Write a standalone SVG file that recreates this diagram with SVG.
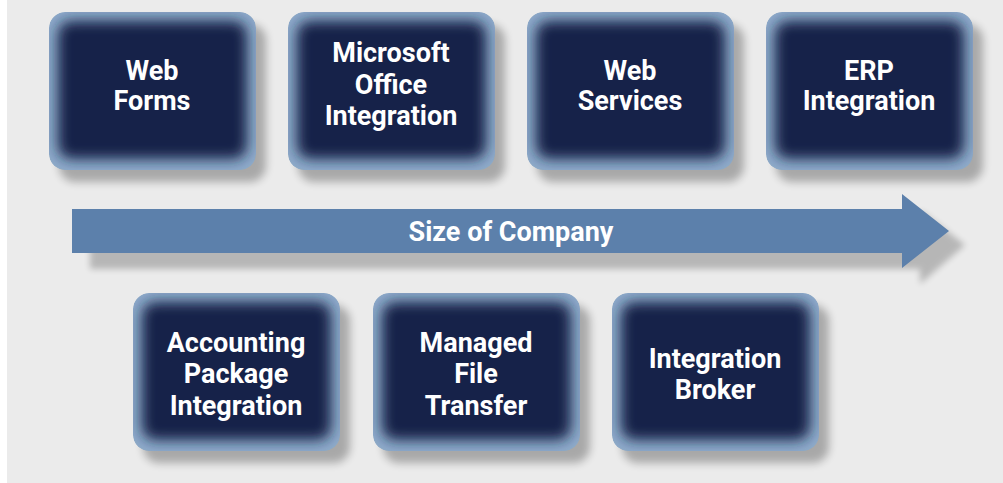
<svg xmlns="http://www.w3.org/2000/svg" width="1003" height="483" viewBox="0 0 1003 483">
  <defs>
    <filter id="soft" x="-20%" y="-20%" width="140%" height="140%">
      <feGaussianBlur stdDeviation="6.5"/>
    </filter>
    <filter id="shadowBlur" x="-20%" y="-20%" width="140%" height="140%">
      <feGaussianBlur stdDeviation="4"/>
    </filter>
    <filter id="arrowShadowBlur" x="-10%" y="-30%" width="120%" height="160%">
      <feGaussianBlur stdDeviation="3"/>
    </filter>
    <clipPath id="boxClip">
      <rect x="0" y="0" width="207" height="158" rx="16"/>
    </clipPath>
    <g id="box">
      <rect x="10" y="12" width="207" height="158" rx="16" fill="#000" opacity="0.28" filter="url(#shadowBlur)"/>
      <g clip-path="url(#boxClip)">
        <rect x="0" y="0" width="207" height="158" rx="16" fill="#8eabca"/>
        <rect x="9" y="9" width="189" height="138" rx="14" fill="#152048" filter="url(#soft)"/>
      </g>
    </g>
  </defs>
  <style>
    .lbl { font-family: Roboto, "Open Sans", "DejaVu Sans", sans-serif; font-weight: bold; font-size: 27px; fill: #ffffff; text-anchor: middle; }
  </style>

  <rect x="7" y="0" width="996" height="483" fill="#ebebeb"/>

  <g id="connectors">
    <path d="M90 225 H920 V210 L965 245 L920 284 V269 H90 Z" fill="#000" opacity="0.22" filter="url(#arrowShadowBlur)"/>
    <path d="M72 209 H902 V194 L949 231 L902 268 V253 H72 Z" fill="#5c80ab"/>
    <text class="lbl" x="511" y="241">Size of Company</text>
  </g>

  <g id="node-web-forms">
    <use href="#box" x="49" y="12"/>
    <text class="lbl" x="152" y="80">Web</text>
    <text class="lbl" x="152" y="110">Forms</text>
  </g>
  <g id="node-ms-office">
    <use href="#box" x="288" y="12"/>
    <text class="lbl" x="391" y="62">Microsoft</text>
    <text class="lbl" x="391" y="94">Office</text>
    <text class="lbl" x="391" y="125">Integration</text>
  </g>
  <g id="node-web-services">
    <use href="#box" x="527" y="12"/>
    <text class="lbl" x="630" y="80">Web</text>
    <text class="lbl" x="630" y="110">Services</text>
  </g>
  <g id="node-erp">
    <use href="#box" x="766" y="12"/>
    <text class="lbl" x="869" y="80">ERP</text>
    <text class="lbl" x="869" y="110">Integration</text>
  </g>

  <g id="node-accounting">
    <use href="#box" x="133" y="293"/>
    <text class="lbl" x="236" y="352">Accounting</text>
    <text class="lbl" x="236" y="383">Package</text>
    <text class="lbl" x="236" y="415">Integration</text>
  </g>
  <g id="node-mft">
    <use href="#box" x="373" y="293"/>
    <text class="lbl" x="476" y="352">Managed</text>
    <text class="lbl" x="476" y="383">File</text>
    <text class="lbl" x="476" y="415">Transfer</text>
  </g>
  <g id="node-broker">
    <use href="#box" x="612" y="293"/>
    <text class="lbl" x="715" y="368">Integration</text>
    <text class="lbl" x="715" y="399">Broker</text>
  </g>
</svg>
